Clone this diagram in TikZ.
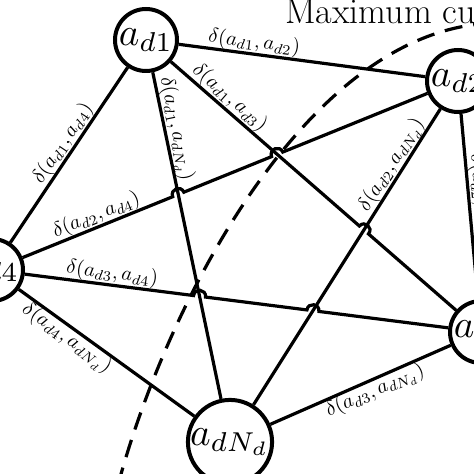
\documentclass[tikz,border=0pt]{standalone}
\usetikzlibrary{calc,intersections}
\newcommand\vtxtext[1]{\scalebox{3.9}{$#1$}}
\newcommand\labtext[1]{\scalebox{2.05}{$#1$}}
\begin{document}
\begin{tikzpicture}[x=1pt,y=1pt,
  vtx/.style={circle,draw,line width=4pt,minimum size=62pt,inner sep=0pt},
  edge/.style={line width=3.2pt},
  elab/.style={sloped,inner sep=1pt},
  hop/.style={bend left=90,looseness=1.7},
  cut/.style={line width=3.2pt,dash pattern=on 18pt off 11pt}]
\useasboundingbox (0,0) rectangle (474,474);
\node[vtx] (d1) at (146,434) {\vtxtext{a_{d1}}};
\node[vtx] (d2) at (458,393) {\vtxtext{a_{d2}}};
\node[vtx] (d3) at (481,142) {\vtxtext{a_{d3}}};
\node[vtx] (d4) at (-8,204) {\vtxtext{a_{d4}}};
\node[vtx] (dN) at (230,32) {\vtxtext{a_{dN_d}}};
\node[anchor=base west,inner sep=0pt,font=\fontsize{36}{40}\selectfont] (mc) at (285,450) {Maximum cut};
% helper paths for the crossings
\path[name path=p1N] (d1.center)--(dN.center);
\path[name path=p13] (d1.center)--(d3.center);
\path[name path=p2N] (d2.center)--(dN.center);
\path[name path=p42] (d4.center)--(d2.center);
\path[name path=p43] (d4.center)--(d3.center);
\path[name intersections={of=p42 and p1N,by=xa}];
\path[name intersections={of=p42 and p13,by=xb}];
\path[name intersections={of=p43 and p1N,by=xc}];
\path[name intersections={of=p43 and p2N,by=xd}];
\path[name intersections={of=p13 and p2N,by=xe}];
% straight edges
\draw[edge] (d1) -- (d2);
\draw[edge] (d1) -- (d4);
\draw[edge] (d1) -- (dN);
\draw[edge] (d2) -- (d3);
\draw[edge] (d2) -- (dN);
\draw[edge] (d3) -- (dN);
\draw[edge] (d4) -- (dN);
% edges with hops
\draw[edge] (d4) -- ($(xa)!6pt!(d4)$) to[hop] ($(xa)!6pt!(d2)$) -- ($(xb)!6pt!(d4)$) to[hop] ($(xb)!6pt!(d2)$) -- (d2);
\draw[edge] (d4) -- ($(xc)!6pt!(d4)$) to[hop] ($(xc)!6pt!(d3)$) -- ($(xd)!6pt!(d4)$) to[hop] ($(xd)!6pt!(d3)$) -- (d3);
\draw[edge] (d1) -- ($(xe)!6pt!(d1)$) to[hop] ($(xe)!6pt!(d3)$) -- (d3);
% labels
\path (d1) -- (d2) node[elab,above,pos=0.30] {\labtext{\delta(a_{d1},a_{d2})}};
\path (d1) -- (d3) node[elab,above,pos=0.18] {\labtext{\delta(a_{d1},a_{d3})}};
\path (d1) -- (dN) node[elab,above,pos=0.18] {\labtext{\delta(a_{d1},a_{dN_d})}};
\path (d4) -- (d1) node[elab,above,pos=0.53] {\labtext{\delta(a_{d1},a_{d4})}};
\path (d4) -- (d2) node[elab,above,pos=0.193] {\labtext{\delta(a_{d2},a_{d4})}};
\path (d4) -- (d3) node[elab,above,pos=0.203] {\labtext{\delta(a_{d3},a_{d4})}};
\path (d4) -- (dN) node[elab,below,pos=0.312] {\labtext{\delta(a_{d4},a_{dN_d})}};
\path (dN) -- (d3) node[elab,below,pos=0.555] {\labtext{\delta(a_{d3},a_{dN_d})}};
\path (dN) -- (d2) node[elab,above,pos=0.79] {\labtext{\delta(a_{d2},a_{dN_d})}};
\path (d2) -- (d3) node[elab,above,pos=0.47] {\labtext{\delta(a_{d2},a_{d3})}};
% maximum cut
\draw[cut] (118,-11) .. controls (165,164) and (300,432) .. (480,450);
\end{tikzpicture}
\end{document}
